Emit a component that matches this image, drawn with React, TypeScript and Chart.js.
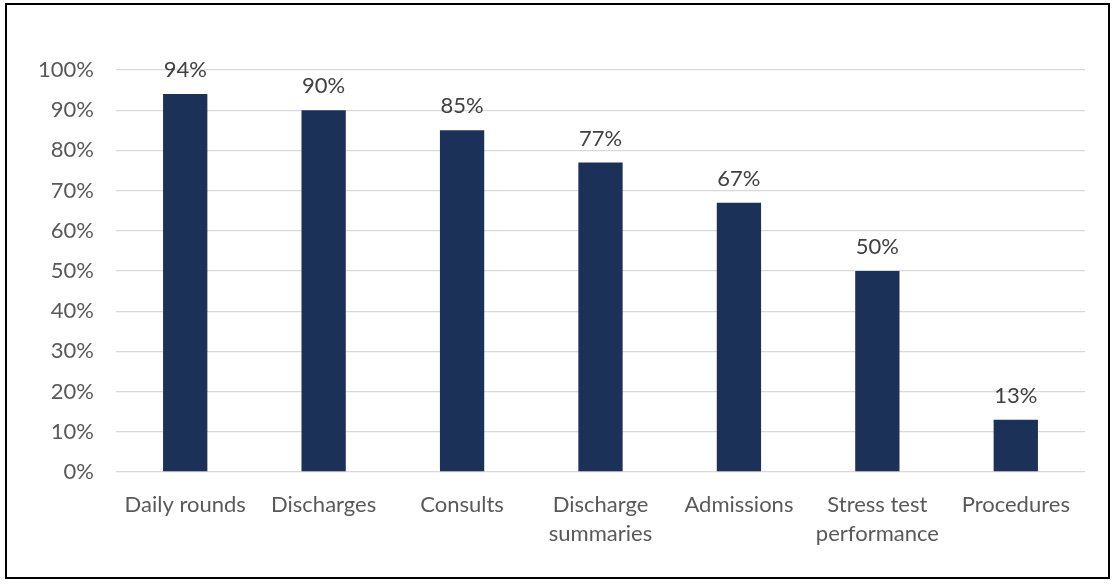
import React, { useEffect, useRef } from "react";
import { Chart, registerables } from "chart.js";

Chart.register(...registerables);

const categories: (string | string[])[] = [
  "Daily rounds",
  "Discharges",
  "Consults",
  ["Discharge", "summaries"],
  "Admissions",
  ["Stress test", "performance"],
  "Procedures",
];
const values: number[] = [94, 90, 85, 77, 67, 50, 13];
const yTicks: number[] = [0, 10, 20, 30, 40, 50, 60, 70, 80, 90, 100];

const FONT = "Lato, 'Open Sans', sans-serif";

const labelPlugin = {
  id: "valueLabels",
  afterDatasetsDraw(chart: any) {
    const ctx = chart.ctx;
    const meta = chart.getDatasetMeta(0);
    ctx.save();
    ctx.fillStyle = "#404040";
    ctx.font = `22px ${FONT}`;
    ctx.textAlign = "center";
    ctx.textBaseline = "middle";
    meta.data.forEach((bar: any, i: number) => {
      ctx.fillText(values[i] + "%", bar.x, bar.y - 24);
    });
    ctx.restore();
  },
};

export default function App() {
  const ref = useRef<HTMLCanvasElement>(null);
  useEffect(() => {
    document.body.style.margin = "0";
    const chart = new Chart(ref.current!, {
      type: "bar",
      data: {
        labels: categories,
        datasets: [
          {
            data: values,
            backgroundColor: "#1b3157",
            barPercentage: 0.32,
            categoryPercentage: 1,
          },
        ],
      },
      options: {
        animation: false,
        responsive: false,
        layout: { padding: { top: 70, right: 29, left: 0, bottom: 0 } },
        plugins: { legend: { display: false }, tooltip: { enabled: false } },
        scales: {
          x: {
            grid: { display: false, drawTicks: false },
            border: { display: false },
            ticks: {
              color: "#595959",
              font: { family: FONT, size: 22, lineHeight: 1.32 },
              padding: 18,
              maxRotation: 0,
              autoSkip: false,
            },
            afterFit: (s: any) => {
              s.height = 112;
            },
          },
          y: {
            min: 0,
            max: 100,
            afterBuildTicks: (s: any) => {
              s.ticks = yTicks.map((v) => ({ value: v }));
            },
            grid: { color: "#d9d9d9", lineWidth: 1.3, drawTicks: false },
            border: { display: false },
            ticks: {
              color: "#595959",
              font: { family: FONT, size: 22 },
              padding: 22,
              callback: (v: any) => v + "%",
            },
            afterFit: (s: any) => {
              s.width = 116;
            },
          },
        },
      },
      plugins: [labelPlugin],
    });
    return () => chart.destroy();
  }, []);
  return (
    <div style={{ position: "absolute", left: 0, top: 0, width: 1114, height: 584, background: "#fff" }}>
      <canvas ref={ref} width={1114} height={584} style={{ position: "absolute", left: 0, top: 0 }} />
      <div
        style={{
          position: "absolute",
          left: 5,
          top: 3,
          width: 1101,
          height: 572,
          border: "2.5px solid #000",
          pointerEvents: "none",
        }}
      />
    </div>
  );
}
